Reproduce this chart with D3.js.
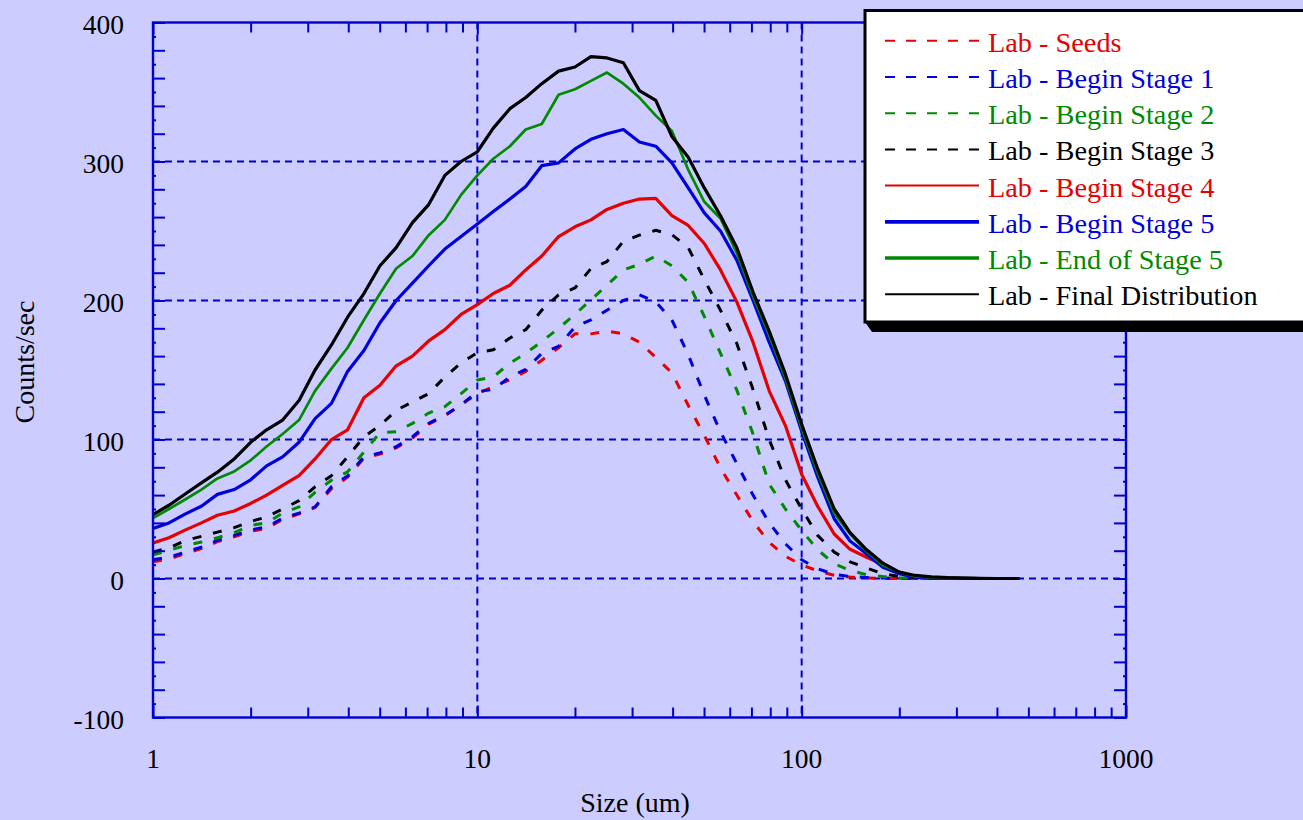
<!DOCTYPE html>
<html>
<head>
<meta charset="utf-8">
<script src="https://cdn.jsdelivr.net/npm/d3@7"></script>
<style>
  html, body { margin: 0; padding: 0; background: #ccccff; }
  svg { display: block; }
  text { font-family: "Liberation Serif", "Times New Roman", serif; }
</style>
</head>
<body>
<svg id="chart" width="1303" height="820"></svg>
<script>
// Particle size (um) at which each distribution was measured
const sizes = [1, 1.12, 1.26, 1.41, 1.58, 1.78, 2, 2.24, 2.51, 2.82,
  3.16, 3.55, 3.98, 4.47, 5.01, 5.62, 6.31, 7.08, 7.94, 8.91,
  10, 11.2, 12.6, 14.1, 15.8, 17.8, 20, 22.4, 25.1, 28.2,
  31.6, 35.5, 39.8, 44.7, 50.1, 56.2, 63.1, 70.8, 79.4, 89.1,
  100, 112, 126, 141, 158, 178, 200, 224, 251, 282,
  316, 355, 398, 447, 470];

// Counts/sec for each sample
const seeds = [12, 14, 18, 21.5, 26.5, 30, 34, 36, 42.5, 46.5,
  51, 64.5, 73, 86.5, 89.5, 94, 101, 111, 117, 125,
  133, 138, 143, 149, 157, 166, 176, 176, 178, 176,
  170, 159, 148, 124.5, 103, 79.5, 60, 41, 26, 16,
  9.8, 5.5, 2.3, 1, 0.4, 0.1, 0, 0, 0, 0,
  0, 0, 0, 0, 0];
const beginStage1 = [13.5, 15.4, 19, 22.6, 27.4, 31, 35, 37, 43.3, 47,
  51.5, 66, 73.8, 87.5, 90.4, 94.8, 102, 111.6, 117.6, 124.8,
  134.4, 136, 145, 150.5, 162, 167, 181, 186, 193, 200,
  204, 199, 186, 161, 132, 105.5, 82.7, 60, 40, 25,
  13.5, 7, 3, 1.5, 0.7, 0.3, 0.1, 0, 0, 0,
  0, 0, 0, 0, 0];
const beginStage2 = [17, 20.2, 23.8, 26.2, 29.3, 33, 38.2, 40, 47, 51.5,
  62, 70.7, 76.7, 91, 105, 105.6, 111.6, 119, 123.6, 133,
  142.8, 145, 155, 162, 170.5, 180, 190, 200.5, 211, 222,
  226, 232, 225, 213, 188.5, 162, 135.6, 104, 68, 50,
  34.6, 20.7, 10.6, 5.8, 2.9, 1.4, 0.6, 0.3, 0.1, 0,
  0, 0, 0, 0, 0];
const beginStage3 = [19, 22, 27.4, 30.3, 33.4, 36.6, 41, 44.3, 50, 56,
  66, 74, 87.5, 102, 110, 121, 127, 133, 145, 155,
  162.5, 164.5, 173, 179, 193, 204, 209, 223, 228, 242.6,
  247, 250.5, 247.4, 238, 215, 193, 169, 136, 100, 71,
  50, 31, 19, 12, 7.7, 3.4, 1.4, 0.6, 0.3, 0.1,
  0, 0, 0, 0, 0];
const beginStage4 = [25.5, 29.3, 35, 40, 45.5, 48.6, 54, 60, 67, 74,
  86, 100, 107, 130, 139, 153, 160, 171, 179, 190,
  197, 205, 211, 222, 232, 246, 253, 258, 265.5, 270,
  273, 273.5, 261, 254, 241, 222, 199, 170, 135, 110,
  75, 52, 32, 21, 15.5, 10, 3.6, 1.5, 0.7, 0.3,
  0.1, 0, 0, 0, 0];
const beginStage5 = [36, 40, 46.5, 52, 60.5, 64, 71, 81, 87.5, 98,
  115, 126, 149, 164, 184, 200, 212.5, 225, 237, 246,
  255, 264, 273, 282, 297, 299, 309, 316, 320, 323,
  314, 311, 299, 281, 263, 250, 229, 200, 170, 142,
  106, 73, 43, 27, 18, 8, 3.4, 1, 0.5, 0.2,
  0.1, 0, 0, 0, 0];
const endStage5 = [43.5, 50, 57, 64, 72, 77, 85, 95, 104, 114,
  135, 151, 166, 186, 205, 223, 232, 247, 258, 276,
  290, 302, 311, 323, 327, 348, 352, 358, 364, 356,
  346, 333, 322, 294, 271, 259, 234, 203, 175, 144,
  108, 76, 47, 32, 20, 9.5, 4.6, 1.5, 0.8, 0.4,
  0.2, 0.1, 0, 0, 0];
const finalDistribution = [46, 52.7, 61, 68.8, 76.5, 86, 98, 107, 114, 128,
  150, 168, 188, 205, 225, 238, 256, 269, 290, 300,
  307, 324, 338, 346, 356, 365, 368, 375.5, 374.5, 371,
  351, 344, 318, 303, 281, 261, 238, 206, 178, 147,
  111, 79, 50, 33, 21, 11, 4.6, 2.2, 1.2, 0.6,
  0.3, 0.1, 0, 0, 0];

const seriesNames = ["Lab - Seeds", "Lab - Begin Stage 1", "Lab - Begin Stage 2",
  "Lab - Begin Stage 3", "Lab - Begin Stage 4", "Lab - Begin Stage 5",
  "Lab - End of Stage 5", "Lab - Final Distribution"];
const seriesValues = [seeds, beginStage1, beginStage2, beginStage3,
  beginStage4, beginStage5, endStage5, finalDistribution];

const xTickLabels = [1, 10, 100, 1000];
const yTickLabels = [-100, 0, 100, 200, 300, 400];
const xTitle = "Size (um)";
const yTitle = "Counts/sec";

// Appearance of each series
const RED = "#e60000", BLUE = "#0000dd", GREEN = "#008a00", BLACK = "#000000";
const styles = [
  { color: RED,   dash: "9,12", width: 3,   legendWidth: 2 },
  { color: BLUE,  dash: "9,12", width: 3,   legendWidth: 2 },
  { color: GREEN, dash: "9,12", width: 3,   legendWidth: 2 },
  { color: BLACK, dash: "9,12", width: 3,   legendWidth: 2 },
  { color: RED,   dash: null,   width: 3.2, legendWidth: 2 },
  { color: BLUE,  dash: null,   width: 3.2, legendWidth: 3.6 },
  { color: GREEN, dash: null,   width: 2.7, legendWidth: 3.6 },
  { color: BLACK, dash: null,   width: 3.2, legendWidth: 2 }
];

const AXIS = "#0000cc";
const svg = d3.select("#chart");
const plotLeft = 153, plotRight = 1126, plotTop = 22.5, plotBottom = 717.5;

const x = d3.scaleLog().domain([1, 1000]).range([plotLeft, plotRight]);
const y = d3.scaleLinear().domain([-100, 400]).range([plotBottom, plotTop]);

// Background
svg.append("rect").attr("width", 1303).attr("height", 820).attr("fill", "#ccccff");

// Dashed grid lines
const grid = svg.append("g").attr("stroke", AXIS).attr("stroke-width", 2)
  .attr("stroke-dasharray", "7,5").attr("fill", "none");
[0, 100, 200, 300].forEach(v => {
  grid.append("line").attr("x1", plotLeft).attr("x2", plotRight)
    .attr("y1", y(v)).attr("y2", y(v));
});
[10, 100].forEach(v => {
  grid.append("line").attr("x1", x(v)).attr("x2", x(v))
    .attr("y1", plotTop).attr("y2", plotBottom);
});

// Curves
svg.append("clipPath").attr("id", "plotClip")
  .append("rect").attr("x", plotLeft).attr("y", plotTop)
  .attr("width", plotRight - plotLeft).attr("height", plotBottom - plotTop);

const line = d3.line()
  .x(d => x(d[0]))
  .y(d => y(d[1]));

const curves = svg.append("g").attr("clip-path", "url(#plotClip)");
seriesValues.forEach((vals, i) => {
  const st = styles[i];
  curves.append("path")
    .datum(sizes.map((s, k) => [s, vals[k]]))
    .attr("d", line)
    .attr("fill", "none")
    .attr("stroke", st.color)
    .attr("stroke-width", st.width)
    .attr("stroke-linejoin", "round")
    .attr("stroke-dasharray", st.dash);
});

// Axes: ticks on all four sides, pointing inward
const minorX = [];
[1, 10, 100].forEach(dec => {
  for (let m = 2; m <= 9; m++) minorX.push(dec * m);
});
const majorY = d3.range(-100, 401, 100);
const mediumY = d3.range(-100, 401, 20).filter(v => v % 100 !== 0);
const smallY = d3.range(-90, 400, 20);

const axisG = svg.append("g").attr("stroke", AXIS).attr("fill", "none");

function bare(g) { g.select(".domain").remove(); }

axisG.append("g").attr("transform", `translate(0,${plotBottom})`)
  .call(d3.axisBottom(x).tickValues(minorX).tickSize(-10).tickFormat("")).call(bare);
axisG.append("g").attr("transform", `translate(0,${plotTop})`)
  .call(d3.axisTop(x).tickValues(minorX).tickSize(-10).tickFormat("")).call(bare);
axisG.append("g").attr("transform", `translate(0,${plotBottom})`)
  .call(d3.axisBottom(x).tickValues(xTickLabels).tickSize(-12).tickFormat("")).call(bare);
axisG.append("g").attr("transform", `translate(0,${plotTop})`)
  .call(d3.axisTop(x).tickValues(xTickLabels).tickSize(-12).tickFormat("")).call(bare);

[[d3.axisLeft, plotLeft], [d3.axisRight, plotRight]].forEach(([ax, pos]) => {
  axisG.append("g").attr("transform", `translate(${pos},0)`)
    .call(ax(y).tickValues(majorY).tickSize(-12).tickFormat("")).call(bare);
  axisG.append("g").attr("transform", `translate(${pos},0)`)
    .call(ax(y).tickValues(mediumY).tickSize(-12).tickFormat("")).call(bare);
  axisG.append("g").attr("transform", `translate(${pos},0)`)
    .call(ax(y).tickValues(smallY).tickSize(-3).tickFormat("")).call(bare);
});
axisG.selectAll(".tick line").attr("stroke", AXIS).attr("stroke-width", 2);

// Frame
svg.append("rect").attr("x", plotLeft).attr("y", plotTop)
  .attr("width", plotRight - plotLeft).attr("height", plotBottom - plotTop)
  .attr("fill", "none").attr("stroke", AXIS).attr("stroke-width", 2.4);

// Tick labels
svg.append("g").selectAll("text").data(yTickLabels).join("text")
  .attr("x", 124).attr("y", d => y(d) + 11)
  .attr("text-anchor", "end").attr("font-size", 27.5).attr("fill", "#000")
  .text(d => d);
svg.append("g").selectAll("text").data(xTickLabels).join("text")
  .attr("x", d => x(d)).attr("y", 768)
  .attr("text-anchor", "middle").attr("font-size", 27.5).attr("fill", "#000")
  .text(d => d);

// Axis titles
svg.append("text")
  .attr("transform", "translate(34,362) rotate(-90)")
  .attr("text-anchor", "middle").attr("font-size", 28).attr("fill", "#000")
  .text(yTitle);
svg.append("text")
  .attr("x", 635).attr("y", 812)
  .attr("text-anchor", "middle").attr("font-size", 28).attr("fill", "#000")
  .text(xTitle);

// Legend box with drop shadow
const lx0 = 865, ly0 = 10.5, lx1 = 1310, ly1 = 322;
svg.append("polygon")
  .attr("points", [[lx0, ly1], [lx0 + 7, ly1 + 10], [lx1 + 7, ly1 + 10], [lx1 + 7, ly0 + 10], [lx1, ly0]].map(p => p.join(",")).join(" "))
  .attr("fill", "#000");
svg.append("rect").attr("x", lx0).attr("y", ly0)
  .attr("width", lx1 - lx0).attr("height", ly1 - ly0)
  .attr("fill", "#fff").attr("stroke", "#000").attr("stroke-width", 3);

const legend = svg.append("g");
const rowY = d3.scaleLinear().domain([0, 7]).range([40.7, 294.3]);
seriesNames.forEach((name, i) => {
  const st = styles[i];
  const yy = rowY(i);
  legend.append("line")
    .attr("x1", 885).attr("x2", 979).attr("y1", yy).attr("y2", yy)
    .attr("stroke", st.color).attr("stroke-width", st.legendWidth)
    .attr("stroke-dasharray", st.dash ? "10,11" : null);
  legend.append("text")
    .attr("x", 988).attr("y", yy + 11)
    .attr("font-size", 28.3).attr("fill", st.color)
    .text(name);
});
</script>
</body>
</html>
